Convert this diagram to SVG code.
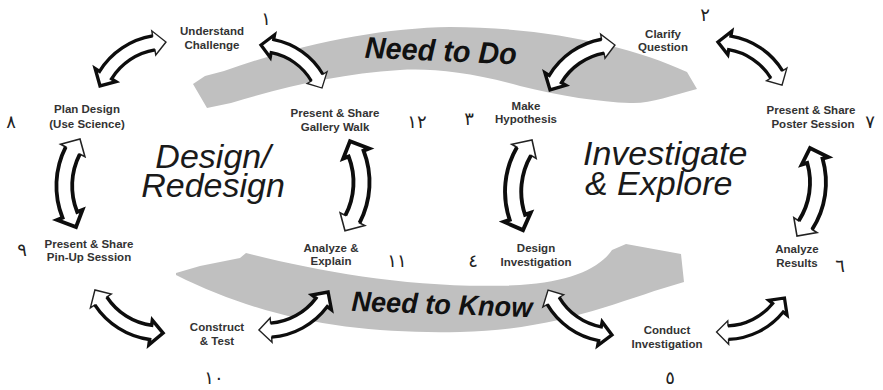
<svg xmlns="http://www.w3.org/2000/svg" xmlns:xlink="http://www.w3.org/1999/xlink" width="883" height="390" viewBox="0 0 883 390">
<style>
.band{fill:#c0c0c0;stroke:none}
.arr{fill:#ffffff;stroke:#222222;stroke-width:1.5;stroke-linejoin:miter}
.thk{fill:none;stroke:#0d0d0d;stroke-width:3.6;stroke-linejoin:miter}
.lbl{font-family:"Liberation Sans",Arial,sans-serif;font-weight:bold;font-size:11.5px;fill:#333333;text-anchor:middle}
.big{font-family:"Liberation Sans",Arial,sans-serif;font-style:italic;font-size:34px;fill:#1a1a1a}
.need{font-family:"Liberation Sans",Arial,sans-serif;font-style:italic;font-weight:bold;fill:#111111;text-anchor:middle}
.num{font-family:"DejaVu Sans",sans-serif;font-size:18px;fill:#222222;text-anchor:middle}
</style>
<defs>
<path id="abase" class="arr" d="M-33.79,-13.2 A81.8,81.8 0 0 1 33.79,-13.2 L36.06,-18.2 L41.98,0 L25.32,5.47 L27.6,0.47 A66.8,66.8 0 0 0 -27.6,0.47 L-25.32,5.47 L-41.98,0 L-36.06,-18.2 Z"/>
<g id="arrowR">
<use xlink:href="#abase"/>
<path class="thk" d="M-33.79,-13.2 A81.8,81.8 0 0 1 33.79,-13.2 L36.06,-18.2 L41.98,0 L25.32,5.47 L27.6,0.47 A66.8,66.8 0 0 0 -27.6,0.47"/>
</g>
<g id="arrowL">
<use xlink:href="#abase"/>
<path class="thk" d="M33.79,-13.2 A81.8,81.8 0 0 0 -33.79,-13.2 L-36.06,-18.2 L-41.98,0 L-25.32,5.47 L-27.6,0.47 A66.8,66.8 0 0 1 27.6,0.47"/>
</g>
</defs>
<rect width="883" height="390" fill="#ffffff"/>
<g id="band-do">
<path class="band" d="M193,84 L205,76 L224,71 C300,44 380,28 450,27 C540,27 630,45 687,72 L697,89 C670,96 650,104 630,103 C600,102 560,96 520,86 C470,72 430,68 400,70 C340,74 290,85 231,103 L207,108 Z"/>
<text class="need" x="441" y="61" font-size="30" textLength="152" lengthAdjust="spacingAndGlyphs" transform="rotate(2.5 441 50)">Need to Do</text>
</g>
<g id="band-know">
<path class="band" d="M176,273 L200,266 L240,258 L246,253 C320,272 420,290 520,285 C570,282 600,268 612,250 L626,244 L681,254 L684,282 C620,300 560,330 460,332 C360,334 270,322 176,275 Z"/>
<text class="need" x="442" y="314" font-size="28" textLength="181" lengthAdjust="spacingAndGlyphs" transform="rotate(2 442 303)">Need to Know</text>
</g>
<g id="connectors">
<use xlink:href="#arrowL" transform="translate(133,64) rotate(-33.7) scale(0.944)"/>
<use xlink:href="#arrowL" transform="translate(291.5,66.5) rotate(35.2) scale(0.89)"/>
<use xlink:href="#arrowL" transform="translate(347.5,186) rotate(93.2) scale(1.07)"/>
<use xlink:href="#arrowR" transform="translate(293.5,311) rotate(-28.8) scale(0.94,-0.94)"/>
<use xlink:href="#arrowR" transform="translate(129,311.5) rotate(32.3) scale(0.96,-0.96)"/>
<use xlink:href="#arrowR" transform="translate(78,183) rotate(92.6) scale(1.05,-1.05)"/>
<use xlink:href="#arrowL" transform="translate(582.5,67.5) rotate(-34.7) scale(0.94)"/>
<use xlink:href="#arrowL" transform="translate(750,63.5) rotate(33.9) scale(0.92)"/>
<use xlink:href="#arrowL" transform="translate(803.5,192) rotate(98.4) scale(1.06)"/>
<use xlink:href="#arrowR" transform="translate(750.5,315) rotate(-26.6) scale(0.905,-0.905)"/>
<use xlink:href="#arrowR" transform="translate(580,312.5) rotate(35.1) scale(0.93,-0.93)"/>
<use xlink:href="#arrowR" transform="translate(527.5,185) rotate(95.7) scale(1.08,-1.08)"/>
</g>
<g id="title-design">
<text class="big" x="213" y="168" text-anchor="middle">Design/</text>
<text class="big" x="213" y="197" text-anchor="middle">Redesign</text>
</g>
<g id="title-investigate">
<text class="big" x="583" y="165" font-size="35">Investigate</text>
<text class="big" x="585" y="195" font-size="35">&amp; Explore</text>
</g>
<g id="node-understand"><text class="lbl" x="212" y="35">Understand</text><text class="lbl" x="212" y="49">Challenge</text></g>
<g id="node-gallery"><text class="lbl" x="335" y="117">Present &amp; Share</text><text class="lbl" x="335" y="131">Gallery Walk</text></g>
<g id="node-analyze-explain"><text class="lbl" x="331" y="252">Analyze &amp;</text><text class="lbl" x="331" y="265">Explain</text></g>
<g id="node-construct"><text class="lbl" x="217" y="331">Construct</text><text class="lbl" x="217" y="345">&amp; Test</text></g>
<g id="node-pinup"><text class="lbl" x="89" y="248">Present &amp; Share</text><text class="lbl" x="89" y="261">Pin-Up Session</text></g>
<g id="node-plan"><text class="lbl" x="87" y="113">Plan Design</text><text class="lbl" x="87" y="128">(Use Science)</text></g>
<g id="node-hypothesis"><text class="lbl" x="526" y="110">Make</text><text class="lbl" x="526" y="123">Hypothesis</text></g>
<g id="node-clarify"><text class="lbl" x="663" y="38">Clarify</text><text class="lbl" x="663" y="51">Question</text></g>
<g id="node-poster"><text class="lbl" x="811" y="114">Present &amp; Share</text><text class="lbl" x="813" y="128">Poster Session</text></g>
<g id="node-results"><text class="lbl" x="797" y="253">Analyze</text><text class="lbl" x="797" y="267">Results</text></g>
<g id="node-conduct"><text class="lbl" x="667" y="334">Conduct</text><text class="lbl" x="667" y="348">Investigation</text></g>
<g id="node-design-inv"><text class="lbl" x="536" y="252">Design</text><text class="lbl" x="536" y="266">Investigation</text></g>
<g id="numbers">
<text class="num" x="266" y="25">١</text>
<text class="num" x="705" y="21">٢</text>
<text class="num" x="469" y="125">٣</text>
<text class="num" x="473" y="267">٤</text>
<text class="num" x="670" y="384">٥</text>
<text class="num" x="840" y="272">٦</text>
<text class="num" x="870" y="128">٧</text>
<text class="num" x="11" y="128">٨</text>
<text class="num" x="22" y="256">٩</text>
<text class="num" x="214" y="384">١٠</text>
<text class="num" x="397" y="267">١١</text>
<text class="num" x="417" y="128">١٢</text>
</g>
</svg>
